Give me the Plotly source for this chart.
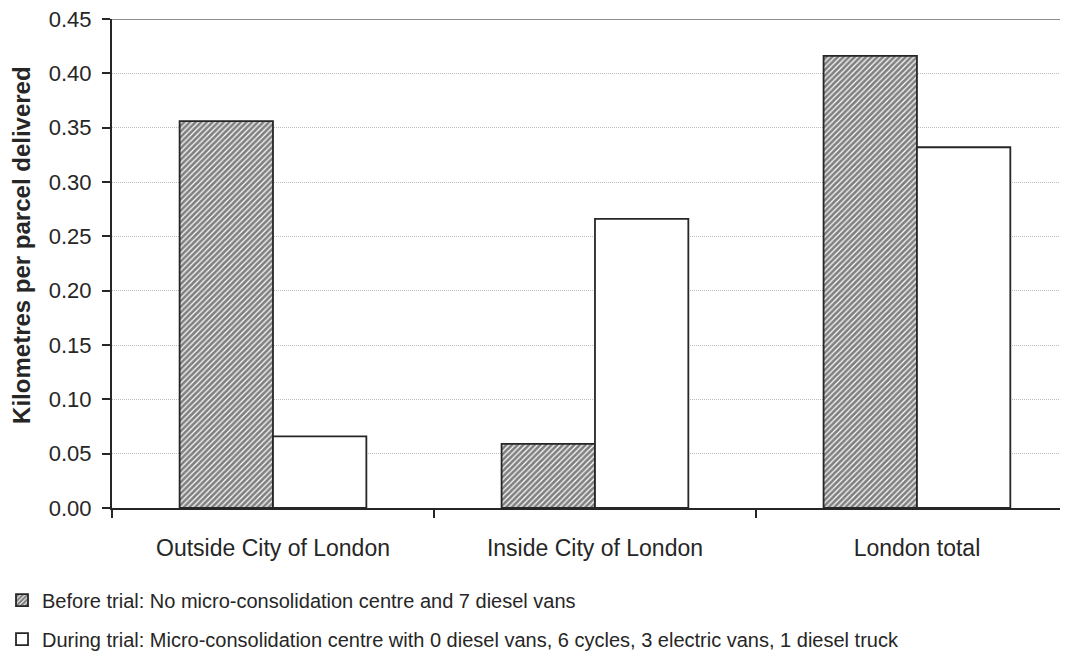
import plotly.graph_objects as go

categories = ["Outside City of London", "Inside City of London", "London total"]
before_trial = [0.356, 0.059, 0.416]
during_trial = [0.066, 0.266, 0.332]
before_name = "Before trial: No micro-consolidation centre and 7 diesel vans"
during_name = "During trial: Micro-consolidation centre with 0 diesel vans, 6 cycles, 3 electric vans, 1 diesel truck"
y_title = "Kilometres per parcel delivered"
y_ticks = [0.0, 0.05, 0.10, 0.15, 0.20, 0.25, 0.30, 0.35, 0.40, 0.45]

FONT = "Liberation Sans, Arial, sans-serif"
INK = "#262626"

fig = go.Figure()
fig.add_trace(go.Bar(
    x=categories, y=before_trial, name=before_name, legendgroup="a",
    marker=dict(color="white", line=dict(color=INK, width=1.8),
                pattern=dict(shape="/", fgcolor="#000000", bgcolor="white",
                             size=4, solidity=0.7)),
))
fig.add_trace(go.Bar(
    x=categories, y=during_trial, name=during_name, legendgroup="b",
    marker=dict(color="white", line=dict(color=INK, width=1.8)),
))

fig.update_layout(
    width=1068, height=656,
    margin=dict(l=104, r=0, t=11, b=156, autoexpand=False),
    paper_bgcolor="white", plot_bgcolor="white",
    font=dict(family=FONT, size=22, color=INK),
    barmode="group", bargap=0.42, bargroupgap=0,
    showlegend=True,
    legend=dict(xref="paper", yref="container", x=-0.1141, xanchor="left",
                y=0.127, yanchor="top",
                orientation="v", traceorder="grouped", tracegroupgap=10,
                font=dict(family=FONT, size=20, color=INK),
                bgcolor="rgba(0,0,0,0)", itemwidth=30),
)
fig.update_xaxes(
    range=[-0.5, 2.494], showline=True, linecolor=INK, linewidth=2,
    ticks="outside", tickson="boundaries", ticklen=8, tickwidth=2, tickcolor=INK,
    showgrid=False, ticklabelstandoff=18, automargin=False,
    tickfont=dict(family=FONT, size=23, color=INK),
)
fig.update_yaxes(
    range=[0, 0.45], tickvals=y_ticks, tickformat=".2f",
    showline=True, linecolor=INK, linewidth=2,
    ticks="outside", ticklen=8, tickwidth=2, tickcolor=INK,
    showgrid=True, gridcolor="#bdbdbd", gridwidth=1, griddash="1px,1px",
    zeroline=False, ticklabelstandoff=6, automargin=False,
    ticklabeloverflow="allow",
    tickfont=dict(family=FONT, size=22, color=INK),
)
fig.add_annotation(text="<b>" + y_title + "</b>", textangle=-90,
                   xref="paper", yref="paper", x=-0.0934, y=0.538,
                   xanchor="center", yanchor="middle", showarrow=False,
                   font=dict(family=FONT, size=24, color=INK))
fig.add_shape(type="line", xref="paper", yref="y", x0=0, x1=1,
              y0=y_ticks[-1], y1=y_ticks[-1], line=dict(color="#8c8c8c", width=2))

fig.write_html("out.html")
